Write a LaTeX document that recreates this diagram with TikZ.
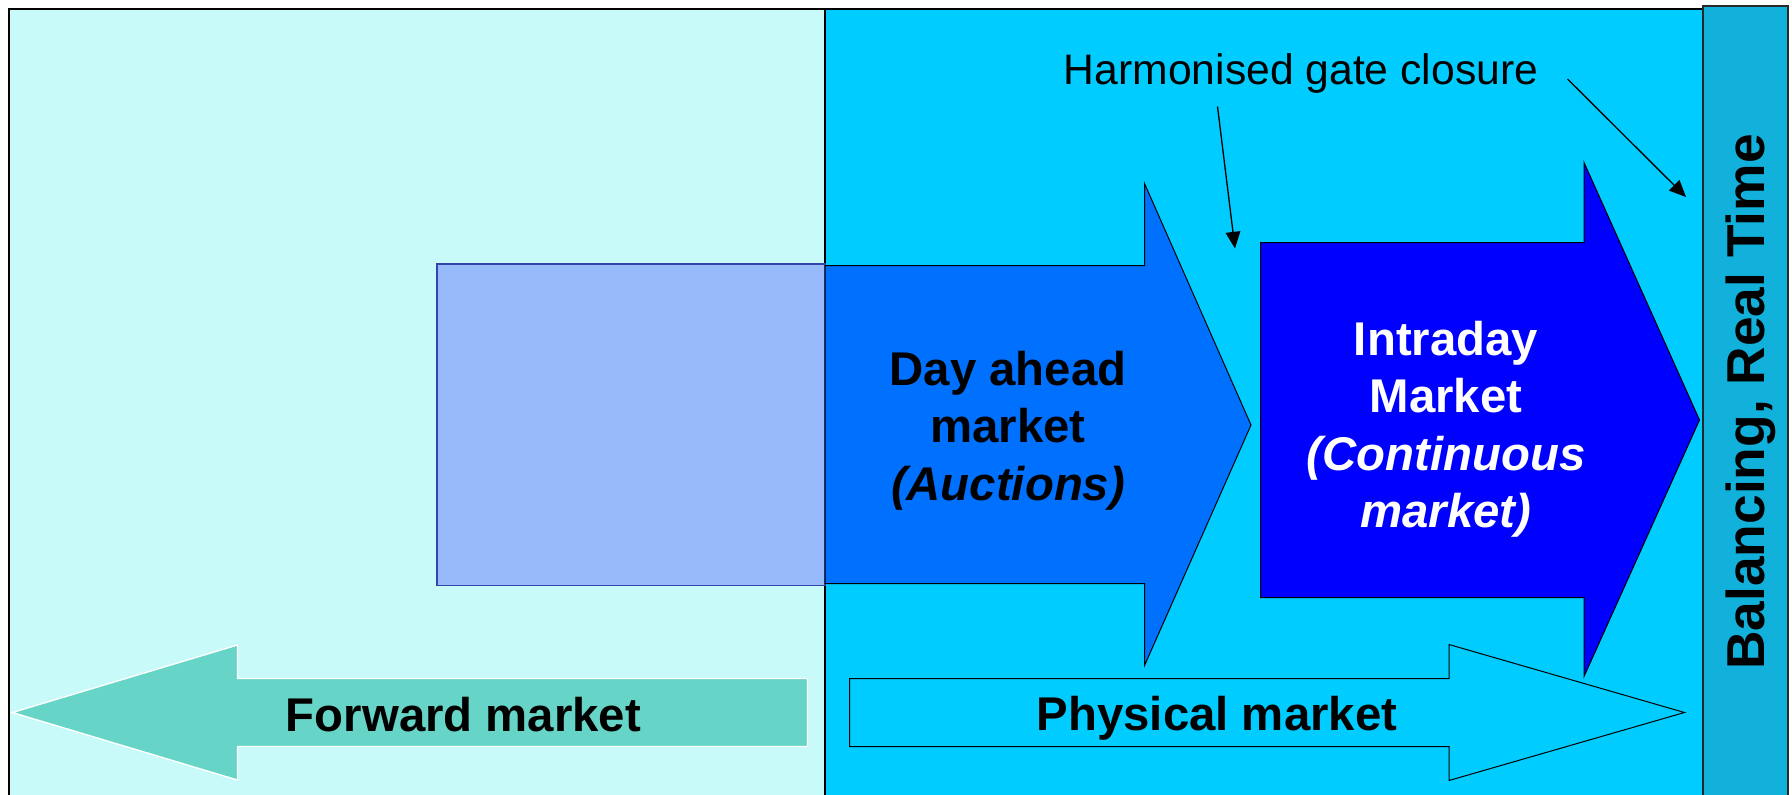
\documentclass[tikz,border=0pt]{standalone}
\usepackage{fontspec}
\setmainfont{Liberation Sans}
\usetikzlibrary{arrows.meta}

\definecolor{forwardpanel}{RGB}{200,250,250}
\definecolor{physpanel}{RGB}{0,204,255}
\definecolor{balstrip}{RGB}{18,177,220}
\definecolor{forwardbox}{RGB}{151,187,250}
\definecolor{forwardboxline}{RGB}{51,68,170}
\definecolor{dayahead}{RGB}{0,112,255}
\definecolor{intraday}{RGB}{0,0,255}
\definecolor{forwardarrow}{RGB}{102,212,198}

\tikzset{every picture/.style={line width=0.75pt}}
\tikzset{
  marketlabel/.style={font=\fontsize{35.5}{43}\selectfont\bfseries, align=center, inner sep=0pt},
  gatelabel/.style={font=\fontsize{32}{38}\selectfont, inner sep=0pt},
  gatearrow/.style={-{Triangle[length=12.5pt,width=11pt]}, line width=1pt}
}

\begin{document}
\begin{tikzpicture}[x=0.75pt,y=0.75pt,yscale=-1,xscale=1]
	\useasboundingbox (0,0) rectangle (1792,795);

	%Shape: Rectangle [forward panel]
	\draw [fill=forwardpanel, line width=1.5pt] (9,9) rectangle (825,805) ;
	%Shape: Rectangle [physical panel]
	\draw [fill=physpanel, line width=1.5pt] (825,9) rectangle (1703,805) ;
	%Shape: Rectangle [balancing strip]
	\draw [fill=balstrip, draw={rgb,255:red,40;green,40;blue,40}, line width=1.5pt] (1703,6.5) rectangle (1788,805) ;

	%Shape: Rectangle [forward products]
	\draw [fill=forwardbox, draw=forwardboxline, line width=1.2pt] (437,264) rectangle (825,585.5) ;

	%Shape: Right Arrow [day ahead]
	\draw [fill=dayahead] (825,265.5) -- (1144.5,265.5) -- (1144.5,183.5) -- (1251,425) -- (1144.5,665.5) -- (1144.5,583.5) -- (825,583.5) -- cycle ;
	%Shape: Right Arrow [intraday]
	\draw [fill=intraday] (1260.5,242.5) -- (1584,242.5) -- (1584,162.5) -- (1699.5,420) -- (1584,676.5) -- (1584,597.5) -- (1260.5,597.5) -- cycle ;
	%Shape: Right Arrow [physical]
	\draw [fill=physpanel] (849.5,678.5) -- (1449,678.5) -- (1449,644.5) -- (1684.5,712.5) -- (1449,780.5) -- (1449,746.5) -- (849.5,746.5) -- cycle ;
	%Shape: Left Arrow [forward]
	\draw [fill=forwardarrow, draw=white, line width=1pt] (807.5,678.5) -- (237.5,678.5) -- (237.5,645) -- (12.5,712.5) -- (237.5,780) -- (237.5,746.5) -- (807.5,746.5) -- cycle ;

	% Text Node
	\node [marketlabel, anchor=base] (dayaheadtxt) at (1008,442.5) {market};
	\node [marketlabel, anchor=base] (dayaheadtop) at (1008,385) {Day ahead};
	\node [marketlabel, anchor=base] (dayaheadsub) at (1008,500) {\textit{(Auctions)}};
	% Text Node
	\node [marketlabel, anchor=base, text=white] (intradaytop) at (1446,355) {Intraday};
	\node [marketlabel, anchor=base, text=white] (intradaytxt) at (1446,412.5) {Market};
	\node [marketlabel, anchor=base, text=white] (intradaysub) at (1446,470) {\textit{(Continuous}};
	\node [marketlabel, anchor=base, text=white] (intradayend) at (1446,527) {\textit{market)}};
	% Text Node
	\node [marketlabel, anchor=base] (forwardtxt) at (463.5,731.5) {Forward market};
	% Text Node
	\node [marketlabel, anchor=base] (physicaltxt) at (1217,730) {Physical market};
	% Text Node
	\node [marketlabel, font=\fontsize{40}{48}\selectfont\bfseries, anchor=base, rotate=90] (balancingtxt) at (1764.5,402) {Balancing, Real Time};
	% Text Node
	\node [gatelabel, anchor=base] (gate) at (1301,85) {Harmonised gate closure};

	%Straight Lines
	\coordinate (gatefrom1) at (1217.5,106.5) ;
	\coordinate (gateto1) at (1235,248.5) ;
	\coordinate (gatefrom2) at (1567.5,79) ;
	\coordinate (gateto2) at (1686,197) ;
	\draw [gatearrow] (gatefrom1) -- (gateto1) ;
	\draw [gatearrow] (gatefrom2) -- (gateto2) ;

\end{tikzpicture}
\end{document}
